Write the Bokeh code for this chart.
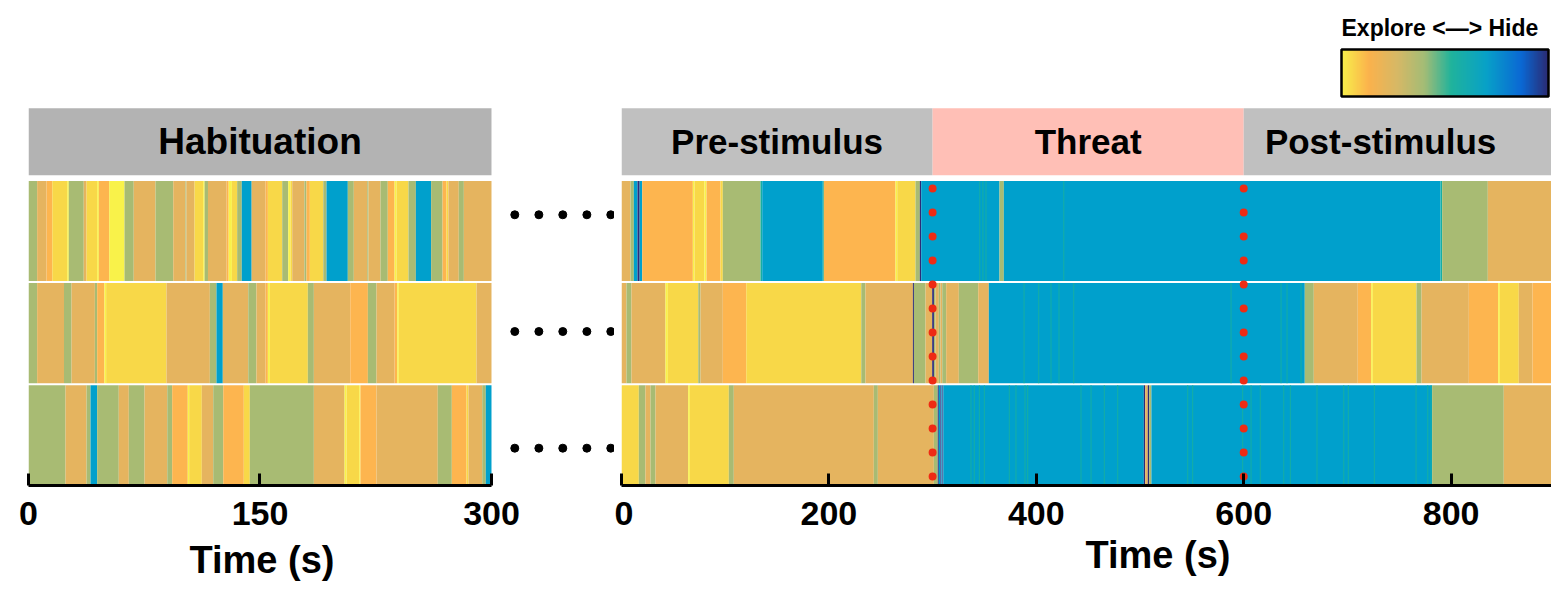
import numpy as np
from bokeh.plotting import figure
from bokeh.models import Range1d, FixedTicker, ColorBar, LinearColorMapper, Title
from bokeh.layouts import row
from bokeh.embed import file_html
from bokeh.resources import INLINE
from bokeh.core.properties import value

# ---------------- data ----------------
hab_end = 300
test_end = 900

# Habituation ethograms: segment start times (s) and behaviour states
hab1_start = [0, 5.6, 11.7, 15.4, 25.1, 26.1, 35.8, 37.6, 44.5, 45.6, 52.3, 62.2, 68.2, 82.3, 93.8,
              101.7, 102.3, 107.6, 113.2, 114.1, 116.3, 128.4, 129.7, 131.8, 135.2, 138.2, 144.6,
              153.6, 155.1, 164.4, 168.3, 169.8, 170.9, 178.8, 180.1, 182.3, 191.0, 193.1, 206.9,
              210.8, 219.5, 220.3, 228.1, 232.8, 237.2, 238.5, 246.2, 251.0, 260.9, 268.3, 270.8,
              272.1, 278.8, 282.1]
hab1_state = ("g t o y Y g t y Y o Y g t g t g t y Y g t o Y y g b t o y g Y y t g o y g b g t "
              "g t g o Y y g b g o y t g t")

hab2_start = [0, 5.6, 23.0, 27.9, 43.0, 44.5, 49.2, 50.3, 89.4, 117.5, 121.8, 125.9, 142.4, 147.7,
              153.6, 155.1, 156.4, 181.0, 184.9, 208.5, 219.9, 225.5, 237.2, 238.9, 239.9, 290.3]
hab2_state = "g t g t g o Y y t g b t g t o Y y g t o g t o Y y t"

hab3_start = [0, 24.0, 37.6, 40.2, 44.5, 58.5, 65.0, 75.2, 89.9, 93.1, 103.2, 104.1, 112.3, 119.7,
              126.2, 139.5, 143.4, 184.9, 204.8, 206.1, 214.3, 215.1, 225.5, 265.2, 274.3, 283.8,
              285.1, 294.0, 296.3]
hab3_state = "g t g b g t g t g o Y y t g o y g t Y y Y o t g o y t g b"

# Test session ethograms
test1_start = [0, 8.7, 11.9, 15.5, 17.5, 20.0, 68.8, 70.4, 80.0, 82.0, 95.5, 97.7, 134.0, 135.7,
               194.1, 195.1, 264.2, 265.9, 283.5, 287.7, 289.0, 364.5, 368.7, 789.8, 791.4, 835.4]
test1_state = "t g b n b o Y y Y o y g c b c o Y y g n b g b c g t"
test1_flick = [345, 348, 351, 426]

test2_start = [0, 4.8, 9.6, 42.4, 44.7, 74.0, 76.2, 97.7, 120.3, 231.2, 235.3, 281.0, 282.0, 293.2,
               299.6, 301.3, 302.8, 306.0, 307.6, 309.3, 313.1, 325.3, 344.0, 354.2, 658.9, 667.6,
               710.0, 722.9, 724.5, 766.6, 771.5, 817.1, 845.4, 847.0, 865.3, 878.5]
test2_state = "t g t Y y g t o y g t n g t n g t g t g t g t b g t o Y y g t o Y y t o"
test2_flick = [387.7, 401.8, 413.7, 421.4, 435.6, 587.3, 635.5, 641.3, 654.8]

test3_start = [0, 16.7, 23.1, 28.0, 32.8, 64.3, 65.9, 103.5, 108.3, 243.3, 247.2, 301.2, 305.0,
               306.0, 307.5, 308.5, 309.5, 310.3, 503.7, 505.0, 507.5, 508.8, 511.0, 781.7, 850.8]
test3_state = "y g t g t Y y g t g t g n b n b n b n t n g b g t"
test3_flick = [336.5, 339.7, 344.6, 349.4, 373.5, 379.9, 388.6, 391.2, 442.6, 452.3, 465.1, 478.0,
               545.5, 550.3, 598.5, 606.6, 615.5, 638.1, 644.5, 670.2, 696.0, 700.4, 725.5, 765.7,
               777.0, 780.2]

stim_times = [300, 600]
hab_ticks = [0, 150, 300]
test_ticks = [0, 200, 400, 600, 800]
hab_header = ["Habituation"]
hab_header_left = [0]
hab_header_right = [300]
hab_header_x = [150]
test_header = ["Pre-stimulus", "Threat", "Post-stimulus"]
test_header_left = [0, 300, 600]
test_header_right = [300, 600, 900]
test_header_x = [150, 450, 732]
axis_title = "Time (s)"
colorbar_title = "Explore <\u2014> Hide"

# ---------------- style ----------------
FONT = "Liberation Sans"
STATE_COLOR = {
    "Y": "#F9F24A", "y": "#F8D848", "o": "#FDB54F", "t": "#E5B45F",
    "g": "#A8BB73", "c": "#16AEA3", "b": "#00A0CC", "n": "#2D2B78",
}
HAB_HEAD = "#B3B3B3"
TEST_HEAD = ["#C0C0C0", "#FFBFB6", "#C0C0C0"]
RED = "#EE2B14"

ROW_PX = 101.7
BORDER_T = 0
FRAME_H = 485 - BORDER_T
Y_END = FRAME_H / ROW_PX
ROW_STEP, ROW_H = 1.005, 0.985
HEAD_B, HEAD_T, HEAD_Y = 3.05, 3.71, 3.38
PX_L, PX_R = 1.5433, 1.037
FIG_H = 594
BORDER_B = FIG_H - FRAME_H - BORDER_T

# colour bar palette (reversed parula-like)
stops = [0.0, 0.13, 0.27, 0.40, 0.53, 0.70, 0.87, 1.0]
anchors = ["#F8F04A", "#FBB24C", "#D6B866", "#A3BC76", "#20B39C", "#08A1C8", "#0A68D4", "#2B2A72"]
rgb = np.array([[int(h[i:i + 2], 16) for i in (1, 3, 5)] for h in anchors], dtype=float)
grid = np.linspace(0, 1, 256)
palette = ["#%02x%02x%02x" % tuple(int(round(np.interp(g, stops, rgb[:, k]))) for k in range(3))
           for g in grid]


def seg_data(starts, states, end, r):
    st = states.split()
    n = len(starts)
    b = r * ROW_STEP
    return dict(left=list(starts), right=list(starts[1:]) + [end], bottom=[b] * n,
                top=[b + ROW_H] * n, color=[STATE_COLOR[s] for s in st])


def flick_data(times, r):
    b = r * ROW_STEP
    n = len(times)
    return dict(left=list(times), right=[t + 1.0 for t in times], bottom=[b] * n,
                top=[b + ROW_H] * n)


def base_fig(width, x_end, border_left, border_right):
    p = figure(width=width, height=FIG_H, x_range=Range1d(0, x_end), y_range=Range1d(0, Y_END),
               toolbar_location=None, output_backend="svg", y_axis_location=None,
               min_border_left=border_left, min_border_right=border_right,
               min_border_top=BORDER_T, min_border_bottom=BORDER_B)
    p.xgrid.visible = False
    p.ygrid.visible = False
    p.outline_line_color = None
    p.background_fill_color = "white"
    p.border_fill_color = "white"
    return p


def style_axis(p, ticks, bounds):
    ax = p.xaxis[0]
    ax.ticker = FixedTicker(ticks=ticks)
    ax.bounds = bounds
    ax.axis_line_color = "black"
    ax.axis_line_width = 3
    ax.major_tick_in = 12
    ax.major_tick_out = 0
    ax.major_tick_line_width = 3
    ax.major_tick_line_color = "black"
    ax.minor_tick_line_color = None
    ax.major_label_text_font = FONT
    ax.major_label_text_font_size = "34px"
    ax.major_label_text_font_style = "bold"
    ax.major_label_text_color = "black"
    ax.major_label_standoff = 16


# ---------------- left: habituation ----------------
pl = base_fig(614, 586 / PX_L, 28, 0)
pl.quad(left=hab_header_left, right=hab_header_right, bottom=HEAD_B, top=HEAD_T,
        fill_color=HAB_HEAD, line_color=None)
pl.text(x=hab_header_x, y=[HEAD_Y], text=hab_header, text_font=value(FONT),
        text_font_size=value("37px"), text_font_style="bold", text_align="center",
        text_baseline="middle", text_color="black")
for i, (s, st) in enumerate([(hab1_start, hab1_state), (hab2_start, hab2_state),
                             (hab3_start, hab3_state)]):
    d = seg_data(s, st, hab_end, 2 - i)
    pl.quad(left=d["left"], right=d["right"], bottom=d["bottom"], top=d["top"],
            fill_color=d["color"], line_color=None)

# ellipsis dots between panels
gap_x = [315.1, 330.7, 346.2, 361.8, 377.3]
gap_y = [2.662, 1.514, 0.367]
pl.scatter(x=gap_x * 3, y=[y for y in gap_y for _ in gap_x], size=8, color="black")
style_axis(pl, hab_ticks, (0, hab_end))
pl.add_layout(Title(text=axis_title, align="left", offset=161, text_font=FONT,
                    text_font_size="38px", text_font_style="bold", text_color="black",
                    standoff=19), "below")

# ---------------- right: test session ----------------
pr = base_fig(937, 930 / PX_R, 7, 0)
pr.quad(left=test_header_left, right=test_header_right, bottom=HEAD_B, top=HEAD_T,
        fill_color=TEST_HEAD, line_color=None)
pr.text(x=test_header_x, y=[HEAD_Y] * 3, text=test_header, text_font=value(FONT),
        text_font_size=value("35px"), text_font_style="bold", text_align="center",
        text_baseline="middle", text_color="black")
for i, (s, st, fl) in enumerate([(test1_start, test1_state, test1_flick),
                                 (test2_start, test2_state, test2_flick),
                                 (test3_start, test3_state, test3_flick)]):
    d = seg_data(s, st, test_end, 2 - i)
    pr.quad(left=d["left"], right=d["right"], bottom=d["bottom"], top=d["top"],
            fill_color=d["color"], line_color=None)
    f = flick_data(fl, 2 - i)
    pr.quad(left=f["left"], right=f["right"], bottom=f["bottom"], top=f["top"],
            fill_color=STATE_COLOR["c"], line_color=None)

pr.segment(x0=stim_times, y0=[2.92] * 2, x1=stim_times, y1=[0.05] * 2, line_color=RED,
           line_width=8, line_dash="0 24", line_cap="round")
style_axis(pr, test_ticks, (0, test_end))
pr.add_layout(Title(text=axis_title, align="left", offset=464, text_font=FONT,
                    text_font_size="38px", text_font_style="bold", text_color="black",
                    standoff=9), "below")

mapper = LinearColorMapper(palette=palette, low=0, high=1)
cb = ColorBar(color_mapper=mapper, orientation="horizontal", location="top_right",
              width=207, height=47, padding=0, margin=3, title=colorbar_title,
              title_text_font=FONT, title_text_font_size="23px", title_text_font_style="bold",
              title_text_color="black", title_standoff=18, ticker=FixedTicker(ticks=[]),
              major_tick_line_color=None, minor_tick_line_color=None,
              major_label_text_font_size="0px", bar_line_color="black", bar_line_width=2.5,
              border_line_color=None, background_fill_alpha=0)
pr.add_layout(cb)

layout = row(pl, pr, spacing=0)
open("out.html", "w").write(file_html(layout, INLINE))
